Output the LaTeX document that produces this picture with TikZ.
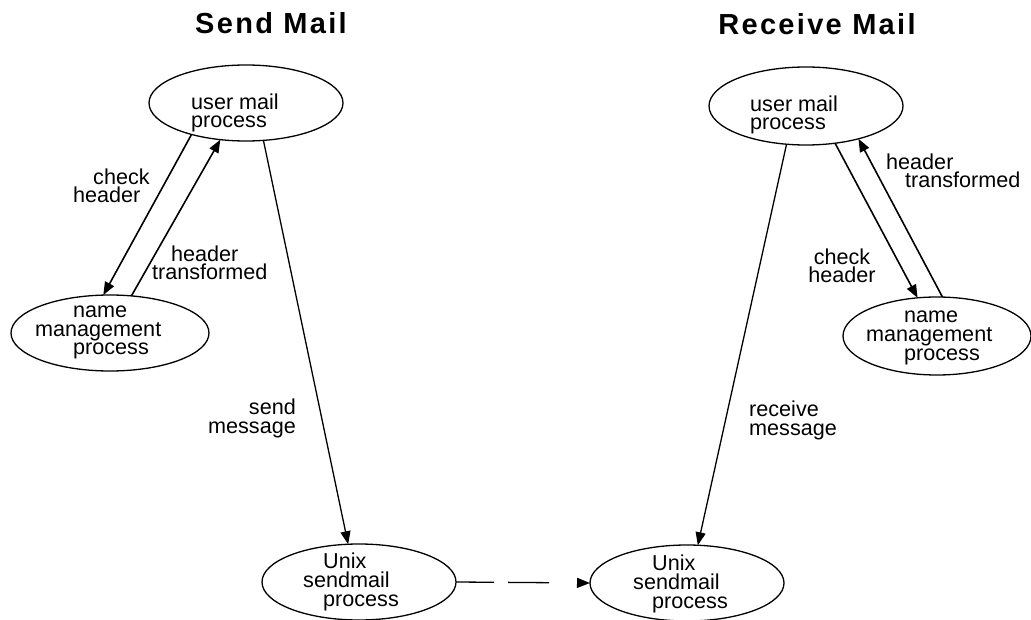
\documentclass[tikz,border=0pt]{standalone}
\usepackage{fontspec}
\setmainfont{Liberation Sans}
\newfontfamily\titlefont{Liberation Sans}[LetterSpace=8]
\usetikzlibrary{shapes.geometric,arrows.meta}

% multi-line texts are placed by the baseline of their last line
\tikzset{
  proc/.style={draw, ellipse, line width=1.3pt, inner sep=0pt, outer sep=0pt,
               minimum width=194pt, minimum height=76pt},
  txt/.style={font=\fontsize{21.6}{18.9}\selectfont, inner sep=0pt, anchor=base west, align=left},
  heading/.style={font=\titlefont\bfseries\fontsize{29}{30}\selectfont, inner sep=0pt, anchor=base},
  flow/.style={line width=1.6pt, -{Triangle[length=13pt,width=10pt]}},
  plain/.style={line width=1.3pt}
}

\begin{document}
\begin{tikzpicture}[x=1pt,y=-1pt]
\useasboundingbox (0,0) rectangle (1031,620);

% headings
\node[heading] (hSend) at (271,34) {Send Mail};
\node[heading] (hRecv) at (817,35) {Receive Mail};

% process ellipses
\node[proc] (umL) at (246,103) {};
\node[proc, minimum width=198pt] (nmL) at (110,333) {};
\node[proc] (uxL) at (359,582) {};
\node[proc, minimum height=78pt] (umR) at (806,106) {};
\node[proc, minimum width=188pt, minimum height=78pt] (nmR) at (937,336) {};
\node[proc] (uxR) at (687,583) {};

% texts inside the ellipses
\node[txt] (umLt) at (191,128) {user mail\\process};
\node[txt] (nmLt) at (35,355) {\hspace*{38pt}name\\management\\\hspace*{38pt}process};
\node[txt] (uxLt) at (303,606) {\hspace*{20pt}Unix\\sendmail\\\hspace*{20pt}process};
\node[txt] (umRt) at (750,130) {user mail\\process};
\node[txt] (nmRt) at (866,360) {\hspace*{38pt}name\\management\\\hspace*{38pt}process};
\node[txt] (uxRt) at (633,608) {\hspace*{19pt}Unix\\sendmail\\\hspace*{19pt}process};

% send side
\draw[flow] (umL.210) -- (nmL.100);
\draw[flow] (nmL.60) -- (umL.235);
\draw[flow, line width=1.3pt] (umL.295) -- (uxL.106);

% receive side
\draw[flow, line width=1.3pt] (umR.243) -- (uxR.74);
\draw[flow] (umR.308) -- (nmR.117);
\draw[flow] (nmR.82) -- (umR.328);

% hand-over between the two sendmail processes
\draw[plain, dash pattern=on 38pt off 14pt on 41pt off 60pt,
      -{Triangle[length=13pt,width=10pt]}] (uxL.east) -- (uxR.west);

% connector labels
\node[txt] (lCheckL) at (73,203) {\hspace*{20pt}check\\header};
\node[txt] (lTransL) at (152,280) {\hspace*{19pt}header\\transformed};
\node[txt, anchor=base east, align=right] (lSend) at (296,433) {send\\message};
\node[txt] (lRecv) at (749,435) {receive\\message};
\node[txt] (lTransR) at (886,188) {header\\\hspace*{19pt}transformed};
\node[txt, anchor=base, align=center] (lCheckR) at (842,283) {check\\header};
\end{tikzpicture}
\end{document}
